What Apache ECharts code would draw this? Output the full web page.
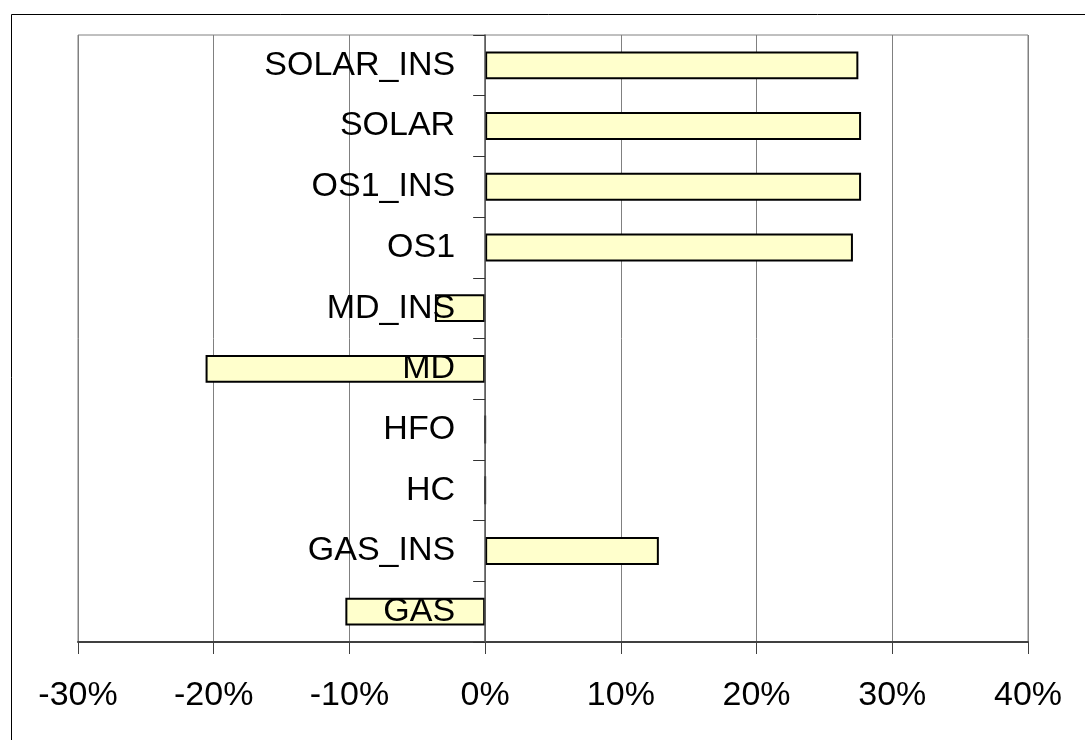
<!DOCTYPE html>
<html>
<head>
<meta charset="utf-8">
<script src="https://cdn.jsdelivr.net/npm/echarts@6/dist/echarts.min.js"></script>
<style>
  html, body { margin: 0; padding: 0; background: #fff; }
  #chart { width: 1085px; height: 740px; }
</style>
</head>
<body>
<div id="chart"></div>
<script>
// categories listed bottom to top
var categories = ['GAS', 'GAS_INS', 'HC', 'HFO', 'MD', 'MD_INS', 'OS1', 'OS1_INS', 'SOLAR', 'SOLAR_INS']
// change in percent
var values = [-10.3, 12.8, 0, 0, -20.6, -3.7, 27.1, 27.7, 27.7, 27.5]
var xMin = -30
var xMax = 40
var xStep = 10

var font = "'Liberation Sans', Arial, sans-serif"
var gridLeft = 78
var gridRight = 57
var plotWidth = 1085 - gridLeft - gridRight
// shift the category axis onto the zero line (labels included)
var zeroOffset = -plotWidth * (0 - xMin) / (xMax - xMin)

var chart = echarts.init(document.getElementById('chart'))
chart.setOption({
  animation: false,
  backgroundColor: '#fff',
  graphic: [{
    type: 'rect',
    left: 9,
    top: 12,
    shape: { width: 1200, height: 900 },
    style: { fill: 'none', stroke: '#000', lineWidth: 1 },
    silent: true
  }],
  grid: {
    left: gridLeft,
    right: gridRight,
    top: 35,
    bottom: 98,
    containLabel: false,
    outerBoundsMode: 'none',
    show: true,
    borderColor: '#808080',
    borderWidth: 1
  },
  xAxis: {
    type: 'value',
    min: xMin,
    max: xMax,
    interval: xStep,
    axisLine: { show: true, onZero: false, lineStyle: { color: '#404040', width: 2 } },
    axisTick: { show: true, length: 12, lineStyle: { color: '#404040', width: 1 } },
    axisLabel: {
      formatter: '{value}%',
      fontSize: 34,
      fontFamily: font,
      color: '#000',
      margin: 37
    },
    splitLine: { show: true, lineStyle: { color: '#808080', width: 1 } }
  },
  yAxis: {
    type: 'category',
    data: categories,
    position: 'left',
    offset: zeroOffset,
    z: 10,
    axisLine: { show: true, onZero: false, lineStyle: { color: '#555', width: 1.5 } },
    axisTick: { show: true, length: 12, lineStyle: { color: '#333', width: 1 } },
    axisLabel: {
      fontSize: 34,
      fontFamily: font,
      color: '#000',
      margin: 30,
      padding: [4, 0, 0, 0]
    },
    splitLine: { show: false }
  },
  series: [{
    type: 'bar',
    data: values,
    barWidth: '46%',
    itemStyle: {
      color: '#FFFFCC',
      borderColor: '#000',
      borderWidth: 2
    }
  }]
})
</script>
</body>
</html>
